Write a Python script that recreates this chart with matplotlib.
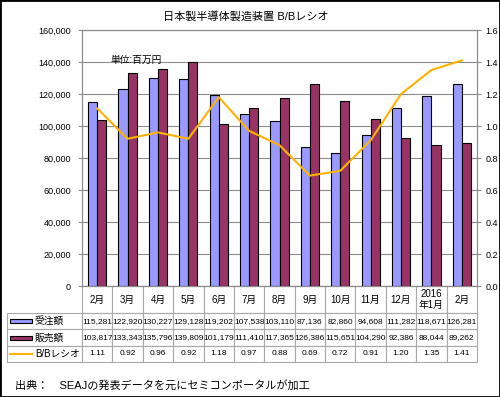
import matplotlib
matplotlib.use('Agg')
import matplotlib.pyplot as plt
from matplotlib.ticker import FuncFormatter
from matplotlib.patches import Rectangle
from matplotlib.lines import Line2D
import numpy as np

plt.rcParams['font.family'] = ['Liberation Sans', 'Noto Sans CJK JP']

# data (unit: million yen)
months = ['2月', '3月', '4月', '5月', '6月', '7月', '8月', '9月', '10月', '11月', '12月', '2016\n年1月', '2月']
orders = [115281, 122920, 130227, 129128, 119202, 107538, 103110, 87136, 82860, 94608, 111282, 118671, 126281]
sales = [103817, 133343, 135796, 139809, 101179, 111410, 117365, 126386, 115651, 104290, 92386, 88044, 89262]
bb_ratio = [1.11, 0.92, 0.96, 0.92, 1.18, 0.97, 0.88, 0.69, 0.72, 0.91, 1.20, 1.35, 1.41]
row_names = ['受注額', '販売額', 'B/Bレシオ']

blue = '#9999FF'
maroon = '#993366'
orange = '#FFB300'
grid_c = '#8c8c8c'

fig = plt.figure(figsize=(5, 3.97), dpi=100)
ax = fig.add_axes([82 / 500, 1 - 286 / 397, 395 / 500, 256 / 397])

x = np.arange(len(months))
ax.bar(x - 0.15, orders, 0.3, color=blue, edgecolor='black', linewidth=0.8, zorder=3)
ax.bar(x + 0.15, sales, 0.3, color=maroon, edgecolor='black', linewidth=0.8, zorder=3)
ax.set_xlim(-0.5, len(months) - 0.5)
ax.set_ylim(0, 160000)
ax.set_yticks(range(0, 160001, 20000))
ax.yaxis.set_major_formatter(FuncFormatter(lambda v, p: f'{int(v):,}'))
ax.set_xticks([])
ax.grid(axis='y', color=grid_c, linewidth=0.8, zorder=0)
ax.tick_params(axis='y', labelsize=6.5, length=3, pad=5, color=grid_c)
for s in ax.spines.values():
    s.set_color(grid_c)
    s.set_linewidth(0.8)
ax.text(0.42, 141000, '単位:百万円', fontsize=7, va='center', ha='left', zorder=4)

ax2 = ax.twinx()
ax2.plot(x, bb_ratio, color=orange, linewidth=1.5, zorder=5)
ax2.set_ylim(0, 1.6)
ax2.set_yticks(np.arange(0, 1.61, 0.2))
ax2.yaxis.set_major_formatter(FuncFormatter(lambda v, p: f'{v:.1f}'))
ax2.tick_params(axis='y', labelsize=6.5, length=3, pad=3, color=grid_c)
for s in ax2.spines.values():
    s.set_color(grid_c)
    s.set_linewidth(0.8)

# data table under the plot; first column holds the series names
cell_text = [[row_names[0]] + [f'{v:,}' for v in orders],
             [row_names[1]] + [f'{v:,}' for v in sales],
             [row_names[2]] + [f'{v:.2f}' for v in bb_ratio]]
tbl = ax.table(cellText=cell_text, colLabels=[''] + months, cellLoc='center',
               bbox=[-75 / 395, -76 / 256, 470 / 395, 76 / 256])
tbl.auto_set_font_size(False)
tbl.set_fontsize(6)
for (r, c), cell in tbl.get_celld().items():
    cell.set_edgecolor('#a8a8a8')
    cell.set_linewidth(0.8)
    cell.set_height(27 if r == 0 else 16.3)
    cell.set_width(75 if c == 0 else 395 / 13)
    if r == 0:
        cell.get_text().set_fontsize(7)
    if c == 0:
        cell.PAD = 0.37
        cell.get_text().set_horizontalalignment('left')
        cell._loc = 'left'
        cell.get_text().set_fontsize(7)
tbl[0, 0].visible_edges = ''

# legend keys in the row label cells
for i, yc in enumerate([321, 337.5, 354]):
    yf = 1 - yc / 397
    if i < 2:
        fig.patches.append(Rectangle((10 / 500, yf - 2 / 397), 22 / 500, 4 / 397,
                                     transform=fig.transFigure, facecolor=[blue, maroon][i],
                                     edgecolor='black', linewidth=0.8, zorder=10))
    else:
        fig.lines.append(Line2D([10 / 500, 32 / 500], [yf, yf], transform=fig.transFigure,
                                color=orange, linewidth=1.5, zorder=10))

fig.text(246 / 500, 1 - 16 / 397, '日本製半導体製造装置 B/Bレシオ', ha='center', va='center', fontsize=8)
fig.text(15 / 500, 1 - 385 / 397, '出典：　SEAJの発表データを元にセミコンポータルが加工',
         ha='left', va='center', fontsize=8)

fig.patches.append(Rectangle((0, 0), 1, 1, transform=fig.transFigure, fill=False,
                             edgecolor='black', linewidth=2))

fig.savefig('out.png', dpi=100)
